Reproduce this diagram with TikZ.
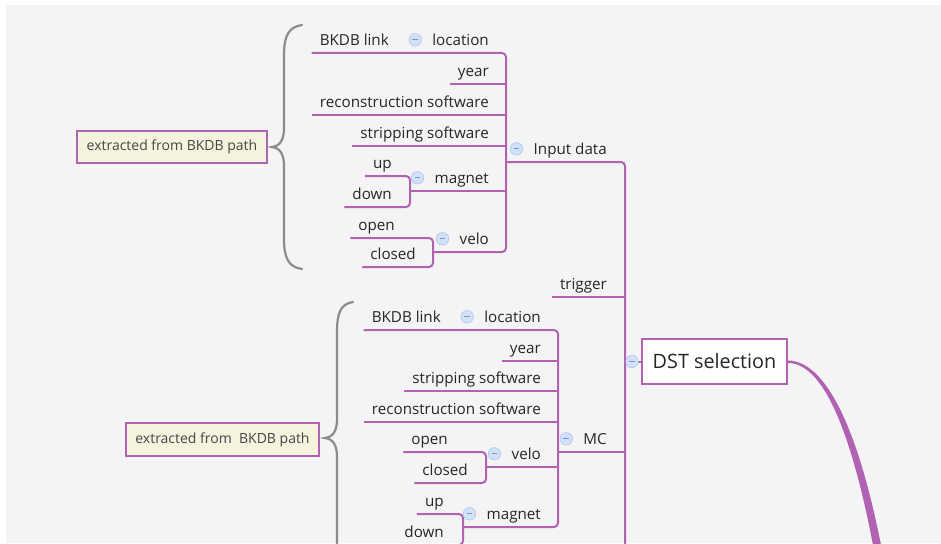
\documentclass[tikz,border=0pt]{standalone}
\usepackage{fontspec}
\setmainfont{Open Sans}
\usetikzlibrary{calc}
\definecolor{bg}{RGB}{244,244,244}
\definecolor{branchc}{RGB}{177,98,178}
\definecolor{iconfill}{RGB}{210,225,248}
\definecolor{iconline}{RGB}{172,198,238}
\definecolor{iconbar}{RGB}{125,150,195}
\definecolor{txt}{RGB}{38,38,38}
\definecolor{notetxt}{RGB}{70,70,70}
\definecolor{notefill}{RGB}{244,243,222}
\definecolor{bracec}{RGB}{140,140,140}

\begin{document}
\begin{tikzpicture}[x=1pt,y=-1pt,
  topic/.style={font=\fontsize{15.2}{17}\selectfont, text=txt, inner xsep=8pt,
    inner ysep=7.5pt, text height=11pt, text depth=0pt, anchor=south east},
  branch/.style={draw=branchc, line width=2pt},
  icon/.style={circle, minimum size=12.5pt, inner sep=0pt, fill=iconfill,
    draw=iconline, line width=0.6pt,
    path picture={\draw[iconbar, line width=0.9pt]
      ([xshift=-2.8pt]path picture bounding box.center) --
      ([xshift=2.8pt]path picture bounding box.center);}},
  note/.style={draw=branchc, line width=1.6pt, fill=notefill, text=notetxt,
    font=\fontsize{14}{16}\selectfont, inner sep=0pt},
  brace/.style={draw=bracec, line width=2.2pt, line cap=round}]

\useasboundingbox (0,0) rectangle (941,543);
\clip (0,0) rectangle (941,543);
\fill[white] (0,0) rectangle (941,543);
\fill[bg] (6,5) rectangle (941,543);

% bus positions
\coordinate (bIn) at (506,0);
\coordinate (bMag1) at (410,0);
\coordinate (bVel1) at (433,0);
\coordinate (trunk) at (625,0);
\coordinate (bMC) at (558,0);
\coordinate (bVel2) at (486,0);
\coordinate (bMag2) at (463,0);
\coordinate (bottom) at (0,570);

% input data subtree
\node[topic] (bk1) at (397,53) {BKDB link};
\node[topic] (loc1) at (497,53) {location};
\node[topic] (year1) at (497,84) {year};
\node[topic] (rec1) at (497,115) {reconstruction software};
\node[topic] (str1) at (497,146) {stripping software};
\node[topic] (mag1) at (497,191) {magnet};
\node[topic] (up1) at (400,176) {up};
\node[topic] (down1) at (400,207) {down};
\node[topic] (vel1) at (497,252) {velo};
\node[topic] (open1) at (403,238) {open};
\node[topic] (closed1) at (424,267) {closed};
\node[topic] (in) at (615,162) {Input data};
\node[topic] (trig) at (615,297) {trigger};
\node[topic] (mc) at (615,452) {MC};

% MC subtree
\node[topic] (bk2) at (449,330) {BKDB link};
\node[topic] (loc2) at (549,330) {location};
\node[topic] (year2) at (549,361) {year};
\node[topic] (str2) at (549,391) {stripping software};
\node[topic] (rec2) at (549,422) {reconstruction software};
\node[topic] (vel2) at (549,467) {velo};
\node[topic] (open2) at (456,452) {open};
\node[topic] (closed2) at (476,483) {closed};
\node[topic] (mag2) at (549,527) {magnet};
\node[topic] (up2) at (452,514) {up};
\node[topic] (down2) at (452,545) {down};

% central topic
\node[draw=branchc, line width=2pt, fill=white, text=txt,
  font=\fontsize{19.8}{22}\selectfont, minimum width=145pt, minimum height=45pt,
  inner sep=0pt] (dst) at (714.5,361.5) {DST selection};

% connectors of the input data subtree
\draw[branch, rounded corners=4pt] (bk1.south west) -- (bIn |- loc1.south)
  -- (bIn |- vel1.south) -- (bVel1 |- vel1.south);
\draw[branch] (year1.south west) -- (bIn |- year1.south);
\draw[branch] (rec1.south west) -- (bIn |- rec1.south);
\draw[branch] (str1.south west) -- (bIn |- str1.south);
\draw[branch] (bMag1 |- mag1.south) -- (bIn |- mag1.south);
\draw[branch, rounded corners=4pt] (up1.south west) -- (bMag1 |- up1.south)
  -- (bMag1 |- down1.south) -- (down1.south west);
\draw[branch, rounded corners=4pt] (open1.south west) -- (bVel1 |- open1.south)
  -- (bVel1 |- closed1.south) -- (closed1.south west);

% trunk from the central topic
\draw[branch, rounded corners=4pt] (bIn |- in.south) -- (trunk |- in.south)
  -- (trunk |- bottom);
\draw[branch] (trig.south west) -- (trunk |- trig.south);
\draw[branch] (bMC |- mc.south) -- (trunk |- mc.south);

% connectors of the MC subtree
\draw[branch, rounded corners=4pt] (bk2.south west) -- (bMC |- loc2.south)
  -- (bMC |- mag2.south) -- (bMag2 |- mag2.south);
\draw[branch] (year2.south west) -- (bMC |- year2.south);
\draw[branch] (str2.south west) -- (bMC |- str2.south);
\draw[branch] (rec2.south west) -- (bMC |- rec2.south);
\draw[branch] (bVel2 |- vel2.south) -- (bMC |- vel2.south);
\draw[branch, rounded corners=4pt] (open2.south west) -- (bVel2 |- open2.south)
  -- (bVel2 |- closed2.south) -- (closed2.south west);
\draw[branch, rounded corners=4pt] (up2.south west) -- (bMag2 |- up2.south)
  -- (bMag2 |- down2.south) -- (down2.south west);

% collapse markers
\node[icon] (i-loc1) at ([xshift=-9pt]loc1.west) {};
\node[icon] (i-mag1) at ([xshift=-9pt]mag1.west) {};
\node[icon] (i-vel1) at ([xshift=-9pt]vel1.west) {};
\node[icon] (i-in) at ([xshift=-9pt]in.west) {};
\node[icon] (i-mc) at ([xshift=-9pt]mc.west) {};
\node[icon] (i-loc2) at ([xshift=-9pt]loc2.west) {};
\node[icon] (i-vel2) at ([xshift=-9pt]vel2.west) {};
\node[icon] (i-mag2) at ([xshift=-9pt]mag2.west) {};
\draw[branch] (trunk |- dst.west) -- (dst.west);
\node[icon] (i-dst) at ([xshift=-9pt]dst.west) {};

% tapered link leaving the central topic
\fill[branchc] (dst.east) ++(0,-1) .. controls (826,361) and (858,429) .. (881,545)
  -- (873,545) .. controls (851,431) and (823,363) .. (788,363) -- cycle;

% notes and their braces
\node[note, minimum width=190pt, minimum height=32pt] (n1) at (172,147)
  {extracted from BKDB path};
\node[note, minimum width=193pt, minimum height=33pt] (n2) at (222.5,439.5)
  {extracted from\ \ BKDB path};

\draw[brace] (302,25) .. controls (289,27) and (284,35) .. (284,55) -- (284,128)
  .. controls (284,140) and (280,146) .. (272,147)
  .. controls (280,148) and (284,154) .. (284,166) -- (284,239)
  .. controls (284,259) and (289,267) .. (302,269);
\draw[brace] (353,302) .. controls (341,304) and (337,312) .. (337,332) -- (337,419)
  .. controls (337,431) and (333,437) .. (325,438)
  .. controls (333,439) and (337,445) .. (337,457) -- (337,554)
  .. controls (337,564) and (341,572) .. (353,574);
\end{tikzpicture}
\end{document}
